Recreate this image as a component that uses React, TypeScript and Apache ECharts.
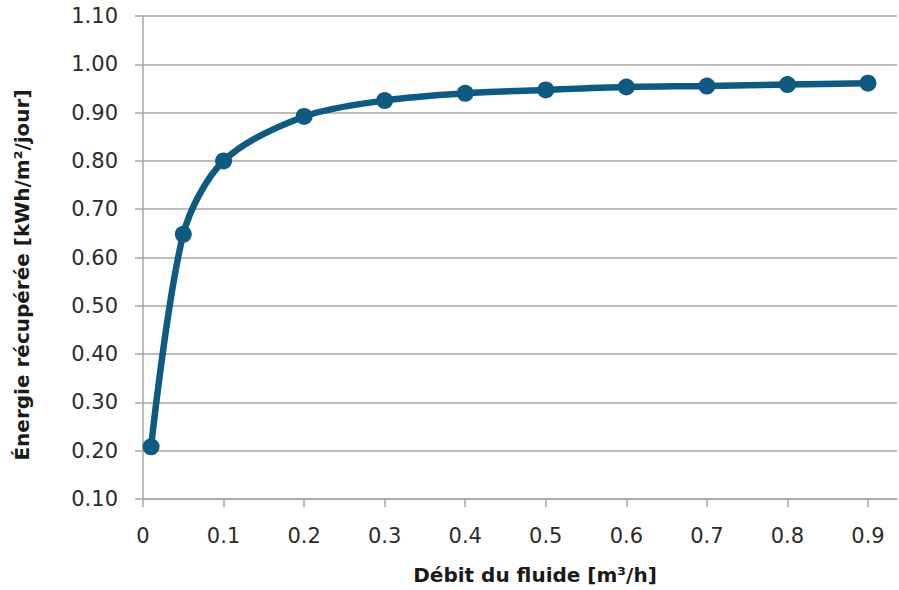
import React, { useEffect, useRef } from "react";
import * as echarts from "echarts";

const flowRates = [0.01, 0.05, 0.1, 0.2, 0.3, 0.4, 0.5, 0.6, 0.7, 0.8, 0.9];
const energy = [0.208, 0.648, 0.8, 0.892, 0.925, 0.94, 0.947, 0.953, 0.955, 0.958, 0.961];
const xTitle = "Débit du fluide [m³/h]";
const yTitle = "Énergie récupérée [kWh/m²/jour]";

const FONT = "DejaVu Sans";
const GRAY = "#a6a6a6";
const TEXT = "#2b2b2b";

export default function App() {
  const ref = useRef<HTMLDivElement>(null);
  useEffect(() => {
    if (!ref.current) return;
    const chart = echarts.init(ref.current, undefined, { renderer: "svg" });
    chart.setOption({
      animation: false,
      backgroundColor: "#ffffff",
      grid: { left: 143, right: 2, top: 16, bottom: 91, containLabel: false },
      xAxis: {
        type: "value",
        min: 0,
        max: 0.936,
        interval: 0.1,
        name: xTitle,
        nameLocation: "middle",
        nameGap: 66,
        nameTextStyle: { fontFamily: FONT, fontSize: 20, fontWeight: "bold", color: "#1a1a1a", padding: [0, 0, 0, 30] },
        axisLine: { show: true, lineStyle: { color: GRAY, width: 1.5 } },
        axisTick: { show: true, length: 8, lineStyle: { color: GRAY, width: 1.5 } },
        axisLabel: {
          margin: 26,
          fontFamily: FONT,
          fontSize: 21,
          color: TEXT,
          showMaxLabel: false,
          formatter: (v: number) => (v === 0 ? "0" : v.toFixed(1)),
        },
        splitLine: { show: false },
      },
      yAxis: {
        type: "value",
        min: 0.1,
        max: 1.1,
        interval: 0.1,
        axisLine: { show: true, lineStyle: { color: GRAY, width: 1.5 } },
        axisTick: { show: true, length: 8, lineStyle: { color: GRAY, width: 1.5 } },
        axisLabel: {
          margin: 25,
          fontFamily: FONT,
          fontSize: 21,
          color: TEXT,
          formatter: (v: number) => v.toFixed(2),
        },
        splitLine: { show: true, lineStyle: { color: GRAY, width: 1.5 } },
      },
      graphic: [
        {
          type: "text",
          x: 22,
          y: 275,
          rotation: Math.PI / 2,
          style: {
            text: yTitle,
            fontFamily: FONT,
            fontSize: 20,
            fontWeight: "bold",
            fill: "#1a1a1a",
            align: "center",
            verticalAlign: "middle",
          },
        },
      ],
      series: [
        {
          type: "line",
          data: flowRates.map((x, i) => [x, energy[i]]),
          smooth: 0.3,
          symbol: "circle",
          symbolSize: 17,
          lineStyle: { color: "#0f5a80", width: 6.5 },
          itemStyle: { color: "#0f5a80" },
        },
      ],
    });
    return () => chart.dispose();
  }, []);
  return (
    <div
      ref={ref}
      style={{ position: "absolute", left: 0, top: 0, width: 899, height: 590 }}
    />
  );
}
